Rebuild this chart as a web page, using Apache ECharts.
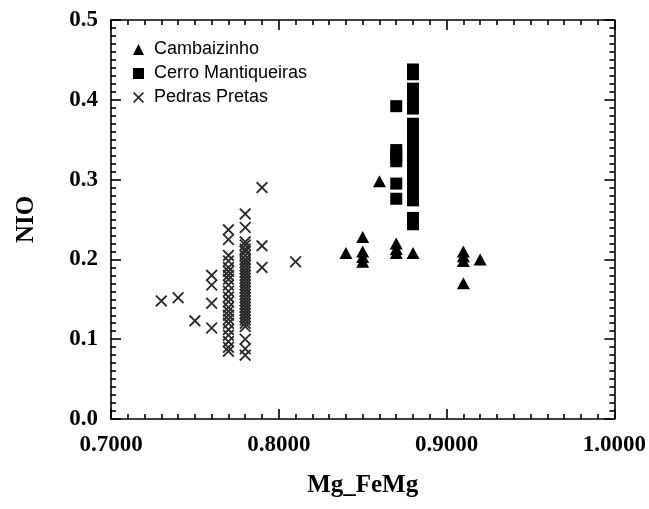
<!DOCTYPE html>
<html>
<head>
<meta charset="utf-8">
<script src="https://cdn.jsdelivr.net/npm/echarts@6/dist/echarts.min.js"></script>
<style>
  html, body { margin: 0; padding: 0; background: #fff; }
  #chart { width: 649px; height: 509px; }
</style>
</head>
<body>
<div id="chart"></div>
<script>
// Olivine NiO vs Mg/(Fe+Mg) for three localities

const seriesNames = ['Cambaizinho', 'Cerro Mantiqueiras', 'Pedras Pretas'];

const xTicks = [0.7, 0.8, 0.9, 1.0];
const yTicks = [0.0, 0.1, 0.2, 0.3, 0.4, 0.5];

const cambaizinho = [
  [0.86, 0.298], [0.84, 0.208], [0.85, 0.228], [0.85, 0.210], [0.85, 0.203],
  [0.85, 0.197], [0.87, 0.220], [0.87, 0.213], [0.87, 0.208], [0.88, 0.208],
  [0.91, 0.210], [0.91, 0.204], [0.91, 0.198], [0.92, 0.200], [0.91, 0.170]
];

const cerroX87 = [0.392, 0.337, 0.330, 0.323, 0.295, 0.276];
const cerroX88 = [
  0.438, 0.432,
  0.414, 0.408, 0.402, 0.396, 0.389,
  0.370, 0.364, 0.358, 0.352, 0.346, 0.340, 0.334, 0.328, 0.322, 0.316,
  0.310, 0.304, 0.298, 0.292, 0.286, 0.280, 0.274,
  0.252, 0.244
];

const pedrasOutliers = [
  [0.73, 0.148], [0.74, 0.152], [0.75, 0.123], [0.76, 0.180], [0.76, 0.168],
  [0.76, 0.145], [0.76, 0.114], [0.79, 0.290], [0.79, 0.217], [0.79, 0.190],
  [0.81, 0.197]
];
const pedrasX77 = [
  0.237, 0.225, 0.205, 0.198, 0.190, 0.185, 0.180, 0.175, 0.168, 0.160,
  0.153, 0.147, 0.140, 0.135, 0.130, 0.125, 0.120, 0.112, 0.105, 0.097,
  0.090, 0.085
];
const pedrasX78 = [
  0.257, 0.240, 0.222, 0.218, 0.213, 0.210, 0.205, 0.200, 0.196, 0.192,
  0.188, 0.184, 0.180, 0.176, 0.172, 0.168, 0.164, 0.160, 0.156, 0.152,
  0.148, 0.144, 0.140, 0.136, 0.132, 0.128, 0.124, 0.120, 0.116, 0.100,
  0.088, 0.080
];

const cerro = cerroX87.map(v => [0.87, v]).concat(cerroX88.map(v => [0.88, v]));
const pedras = pedrasOutliers
  .concat(pedrasX77.map(v => [0.77, v]))
  .concat(pedrasX78.map(v => [0.78, v]));

// thin "x" glyph drawn as a filled outline
const crossPath = 'path://M0,1.3 L1.3,0 L6,4.7 L10.7,0 L12,1.3 L7.3,6 L12,10.7 L10.7,12 L6,7.3 L1.3,12 L0,10.7 L4.7,6 Z';

const serifBold = { fontFamily: 'Liberation Serif', fontWeight: 'bold', fontSize: 23, color: '#000' };
const titleFont = Object.assign({}, serifBold, { fontSize: 25 });
const lineStyle = { color: '#000', width: 1.6 };

const chart = echarts.init(document.getElementById('chart'), null, { renderer: 'canvas' });

chart.setOption({
  animation: false,
  backgroundColor: '#fff',
  grid: { left: 111, right: 32, top: 20, bottom: 90 },
  legend: {
    orient: 'vertical',
    left: 128,
    top: 34,
    itemWidth: 11,
    itemHeight: 11,
    itemGap: 3,
    textStyle: { fontFamily: 'Liberation Sans', fontSize: 18, color: '#000', lineHeight: 21, padding: [0, 0, 0, 5] },
    data: seriesNames
  },
  xAxis: [
    {
      type: 'value', min: xTicks[0], max: xTicks[xTicks.length - 1], interval: 0.1,
      position: 'bottom',
      name: 'Mg_FeMg', nameLocation: 'middle', nameGap: 54,
      nameTextStyle: titleFont,
      axisLine: { onZero: false, lineStyle: lineStyle },
      axisTick: { inside: true, length: 10, lineStyle: lineStyle },
      minorTick: { show: true, splitNumber: 10, length: 5, lineStyle: lineStyle },
      axisLabel: Object.assign({ margin: 15, formatter: v => v.toFixed(4) }, serifBold),
      splitLine: { show: false }
    },
    {
      type: 'value', min: xTicks[0], max: xTicks[xTicks.length - 1], interval: 0.1,
      position: 'top',
      axisLine: { onZero: false, lineStyle: lineStyle },
      axisTick: { inside: true, length: 10, lineStyle: lineStyle },
      minorTick: { show: true, splitNumber: 10, length: 5, lineStyle: lineStyle },
      axisLabel: { show: false },
      splitLine: { show: false }
    }
  ],
  yAxis: [
    {
      type: 'value', min: yTicks[0], max: yTicks[yTicks.length - 1], interval: 0.1,
      position: 'left',
      name: 'NIO', nameLocation: 'middle', nameGap: 72, nameRotate: 90,
      nameTextStyle: titleFont,
      axisLine: { onZero: false, lineStyle: lineStyle },
      axisTick: { inside: true, length: 10, lineStyle: lineStyle },
      minorTick: { show: true, splitNumber: 10, length: 5, lineStyle: lineStyle },
      axisLabel: Object.assign({ margin: 13, formatter: v => v.toFixed(1) }, serifBold),
      splitLine: { show: false }
    },
    {
      type: 'value', min: yTicks[0], max: yTicks[yTicks.length - 1], interval: 0.1,
      position: 'right',
      axisLine: { onZero: false, lineStyle: lineStyle },
      axisTick: { inside: true, length: 10, lineStyle: lineStyle },
      minorTick: { show: true, splitNumber: 10, length: 5, lineStyle: lineStyle },
      axisLabel: { show: false },
      splitLine: { show: false }
    }
  ],
  series: [
    {
      name: seriesNames[0], type: 'scatter', symbol: 'triangle', symbolSize: [13, 12],
      itemStyle: { color: '#000', opacity: 1 }, data: cambaizinho
    },
    {
      name: seriesNames[1], type: 'scatter', symbol: 'rect', symbolSize: 12,
      itemStyle: { color: '#000', opacity: 1 }, data: cerro
    },
    {
      name: seriesNames[2], type: 'scatter', symbol: crossPath, symbolSize: 12,
      itemStyle: { color: '#2a2a2a', opacity: 1 }, data: pedras
    }
  ]
});
</script>
</body>
</html>
